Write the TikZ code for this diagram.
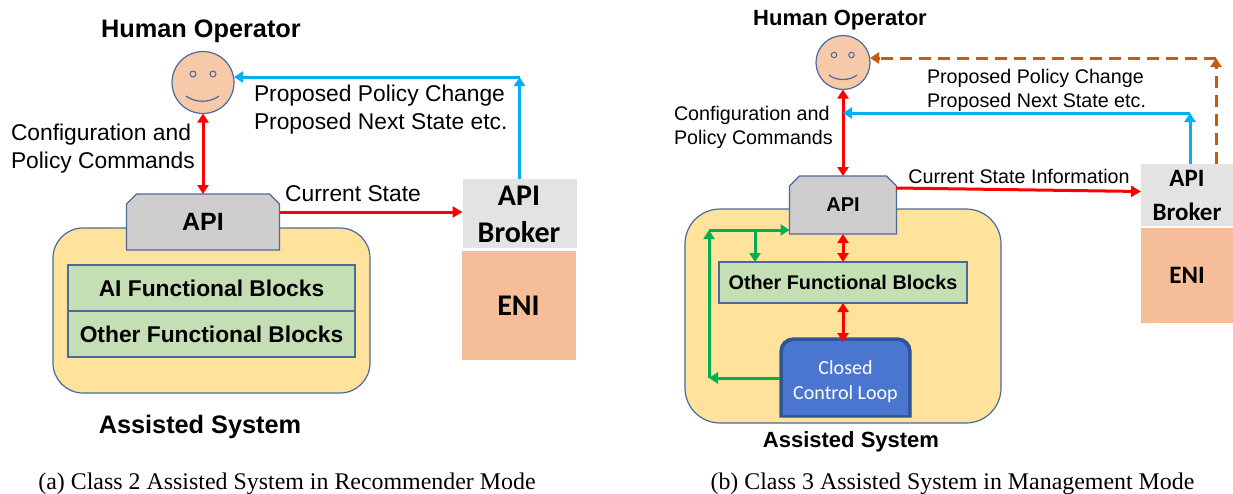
\documentclass[tikz,border=0pt]{standalone}
\usepackage{fontspec}
\setmainfont{Liberation Sans}
\newfontfamily\calib{Carlito}
\newfontfamily\capfont{Liberation Serif}
\usetikzlibrary{arrows.meta,shapes.misc}
\definecolor{edgeblue}{HTML}{4A6A9E}
\definecolor{yellowbg}{HTML}{FFE29B}
\definecolor{greenbg}{HTML}{C5DFB4}
\definecolor{graybg}{HTML}{CFCDCE}
\definecolor{brokerbg}{HTML}{E3E3E3}
\definecolor{enibg}{HTML}{F5BE98}
\definecolor{facebg}{HTML}{F6C9A8}
\definecolor{redc}{HTML}{FF0000}
\definecolor{bluec}{HTML}{00B0F0}
\definecolor{greenc}{HTML}{00B050}
\definecolor{brownc}{HTML}{C55A11}
\definecolor{loopbg}{HTML}{4A76CF}
\definecolor{loopdark}{HTML}{2F5597}
\tikzset{
  every node/.style={inner sep=0pt,outer sep=0pt},
  facebox/.style={circle,draw=edgeblue,line width=1.2pt,fill=facebg},
  eye/.style={circle,draw=edgeblue,line width=1pt,fill=facebg,minimum size=6pt},
  smile/.style={draw=edgeblue,line width=1.2pt},
  sysbox/.style={draw=edgeblue,line width=1.2pt,fill=yellowbg,rectangle},
  apibox/.style={chamfered rectangle,chamfered rectangle corners={north west,north east},
    chamfered rectangle xsep=5pt,chamfered rectangle ysep=5pt,draw=edgeblue,line width=1.2pt,fill=graybg,font=\bfseries},
  fbox/.style={rectangle,draw=edgeblue,line width=1.2pt,fill=greenbg,font=\bfseries},
  broker/.style={rectangle,fill=brokerbg},
  brokertext/.style={align=center,font=\calib\bfseries},
  eni/.style={rectangle,fill=enibg,font=\calib\bfseries},
  redarrow/.style={draw=redc,line width=3pt,{Triangle[length=9pt,width=11pt]}-{Triangle[length=9pt,width=11pt]}},
  redone/.style={draw=redc,line width=3pt,-{Triangle[length=10pt,width=11pt]}},
  bluearrow/.style={draw=bluec,line width=3pt,-{Triangle[length=9pt,width=11pt]}},
  greenarrow/.style={draw=greenc,line width=3pt,-{Triangle[length=9pt,width=11pt]}},
  brownarrow/.style={draw=brownc,line width=3pt,-{Triangle[length=9pt,width=11pt]}},
  browndash/.style={draw=brownc,line width=3pt,dash pattern=on 12pt off 7pt},
}
\newcommand{\fs}[2]{\fontsize{#1}{#2}\selectfont}
\begin{document}
\begin{tikzpicture}[x=1pt,y=-1pt]
\useasboundingbox (0,0) rectangle (1233,493);
%% ---------- left ----------
\node[font=\bfseries\fs{25.3}{30}] (hoL) at (201,31) {Human Operator};
\node[facebox,minimum size=62pt] (faceL) at (203,82.5) {};
\node[eye] (e1L) at (193,74) {};
\node[eye] (e2L) at (213,74) {};
\draw[smile] (186,96) .. controls (195,103) and (210,103) .. (219,96);
\node[sysbox,rounded corners=30pt,minimum width=317pt,minimum height=165pt] (sysL) at (211.5,310.5) {};
\node[apibox,minimum width=153pt,minimum height=56pt,font=\bfseries\fs{25}{30}] (apiL) at (203,222) {API};
\node[fbox,minimum width=287pt,minimum height=46pt,font=\bfseries\fs{22.8}{28}] (aiL) at (211.5,288) {AI Functional Blocks};
\node[fbox,minimum width=287pt,minimum height=46pt,font=\bfseries\fs{22.8}{28}] (otL) at (211.5,334) {Other Functional Blocks};
\node[broker,minimum width=114pt,minimum height=69pt] (brL) at (519.5,213.5) {};
\node[brokertext,font=\calib\bfseries\fs{30}{36}] (brLt) at (519,217) {\strut API\\[1pt]\strut Broker};
\node[eni,minimum width=114pt,minimum height=109pt,font=\calib\bfseries\fs{30}{36}] (eniL) at (518.5,305.5) {ENI};
\node[font=\bfseries\fs{25.3}{30}] (asL) at (200,427) {Assisted System};
\node[anchor=north west,align=left,font=\fs{22.8}{28}] (cfgL) at (11,124) {Configuration and\\Policy Commands};
\node[anchor=north west,align=left,font=\fs{22.8}{28}] (propL) at (254,85) {Proposed Policy Change\\Proposed Next State etc.};
\node[font=\fs{22.8}{26}] (curL) at (353,194) {Current State};
\coordinate (cornerL) at (brL.north |- 0,77);
\coordinate (apiRL) at (280,212);
\coordinate (brWL) at (brL.west |- apiRL);
\draw[redarrow] (faceL.south) -- (apiL.north);
\draw[redone] (apiRL) -- (brWL);
\draw[bluearrow] (brL.north) -- (cornerL);
\draw[bluearrow] (cornerL) -- (cornerL -| faceL.east);
\node[font=\capfont\fs{23.9}{28}] (capL) at (287,484) {(a) Class 2 Assisted System in Recommender Mode};
%% ---------- right ----------
\node[font=\bfseries\fs{22}{26}] (hoR) at (840,20) {Human Operator};
\node[facebox,minimum size=54pt] (faceR) at (843,62.5) {};
\node[eye,minimum size=5.5pt] (e1R) at (834,55) {};
\node[eye,minimum size=5.5pt] (e2R) at (851.5,55) {};
\draw[smile] (829,75) .. controls (836,81) and (850,81) .. (857,75);
\node[sysbox,rounded corners=35pt,minimum width=316pt,minimum height=214pt] (sysR) at (843,316) {};
\node[apibox,minimum width=107pt,minimum height=58pt,font=\bfseries\fs{20}{24}] (apiR) at (843,205) {API};
\node[fbox,minimum width=248pt,minimum height=41pt,font=\bfseries\fs{19.8}{24}] (otR) at (843,282.5) {Other Functional Blocks};
\path[draw=loopdark,line width=1.2pt,fill=loopdark] (780,417) [rounded corners=13pt] -- (780,338) -- (911,338) [sharp corners] -- (911,417) -- cycle;
\path[fill=loopbg] (783,415) [rounded corners=11pt] -- (783,341) -- (908,341) [sharp corners] -- (908,415) -- cycle;
\node[minimum width=131pt,minimum height=79pt,align=center,text=white,font=\calib\fs{20}{25}] (loopR) at (845.5,381.5) {Closed\\Control Loop};
\node[broker,minimum width=92pt,minimum height=62pt] (brR) at (1187,195) {};
\node[brokertext,font=\calib\bfseries\fs{25}{30}] (brRt) at (1187,197.5) {\strut API\\[4pt]\strut Broker};
\node[eni,minimum width=92pt,minimum height=95pt,font=\calib\bfseries\fs{25}{30}] (eniR) at (1187,275.5) {ENI};
\node[font=\bfseries\fs{22}{26}] (asR) at (851,442) {Assisted System};
\node[anchor=north west,align=left,font=\fs{19.7}{24.5}] (cfgR) at (674,106) {Configuration and\\Policy Commands};
\node[anchor=north west,align=left,font=\fs{19.7}{24.5}] (propR) at (927,69) {Proposed Policy Change\\Proposed Next State etc.};
\node[font=\fs{19.7}{22}] (curR) at (1019,176) {Current State Information};
\coordinate (cornerB) at (1190,113);
\coordinate (stemB) at (cornerB |- brR.north);
\coordinate (hitB) at (faceR.south |- cornerB);
\coordinate (cornerO) at (1216,58);
\coordinate (stemO) at (cornerO |- brR.north);
\coordinate (apiRR) at (896,188);
\coordinate (brWR) at (1141,191.5);
\coordinate (gTop) at (709,230);
\coordinate (gBot) at (709,378);
\coordinate (gMid) at (755,230);
\draw[redarrow] (faceR.south) -- (apiR.north);
\draw[bluearrow] (stemB) -- (cornerB);
\draw[bluearrow] (cornerB) -- (hitB);
\draw[browndash] (stemO) -- ([yshift=-10pt]cornerO);
\draw[brownarrow] ([yshift=-10pt]cornerO) -- (cornerO);
\draw[browndash] (cornerO) -- ([xshift=10pt]cornerO -| faceR.east);
\draw[brownarrow] ([xshift=10pt]cornerO -| faceR.east) -- (cornerO -| faceR.east);
\draw[redone] (apiRR) -- (brWR);
\draw[redarrow] (apiR.south) -- (otR.north);
\draw[redarrow] (otR.south) -- (otR.south |- loopR.north);
\draw[greenarrow] (loopR.west |- gBot) -- (gBot);
\draw[greenarrow] (gBot) -- (gTop);
\draw[greenarrow] (gTop) -- (gTop -| apiR.west);
\draw[greenarrow] (gMid) -- (gMid |- otR.north);
\node[font=\capfont\fs{23.9}{28}] (capR) at (952.5,484) {(b) Class 3 Assisted System in Management Mode};
\end{tikzpicture}
\end{document}
